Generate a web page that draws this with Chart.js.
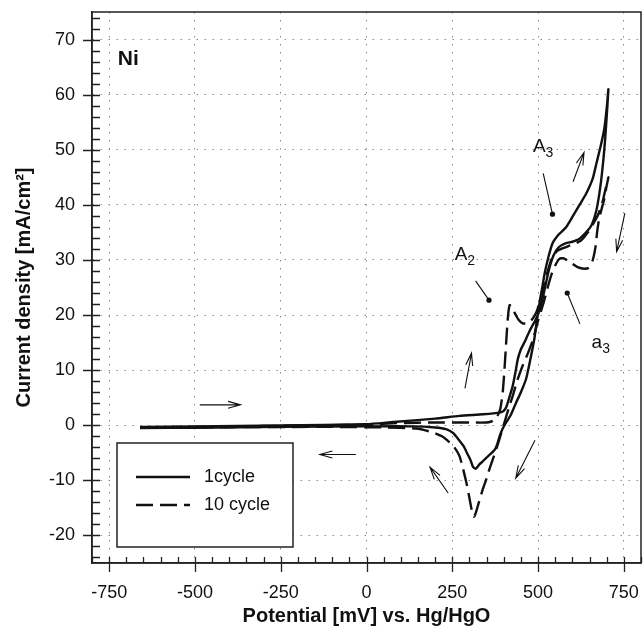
<!DOCTYPE html>
<html>
<head>
<meta charset="utf-8">
<script src="https://cdn.jsdelivr.net/npm/chart.js@4.4.0/dist/chart.umd.min.js"></script>
<style>
  html, body { margin: 0; padding: 0; background: #fff; }
</style>
</head>
<body>
<canvas id="cv" width="643" height="629"></canvas>
<script>
// axis ticks
const xTicks = [-750, -500, -250, 0, 250, 500, 750];
const yTicks = [-20, -10, 0, 10, 20, 30, 40, 50, 60, 70];
const xMinorStep = 50;
const yMinorStep = 2;

const seriesNames = ["1cycle", "10 cycle"];

// 1st cycle: anodic sweep then cathodic sweep (mV, mA/cm2)
const cycle1Potential = [
  -660, -500, -250, 0, 78, 200, 271, 340, 388, 400, 408, 416, 426, 434, 441, 450, 460, 476, 494, 505, 513,
  522, 532, 545, 560, 580, 600, 620, 640, 655, 665, 673, 683, 690, 695, 700, 705,
  700, 693, 683, 670, 659, 640, 620, 600, 581, 560, 542, 530, 520, 513, 505, 497, 489, 477, 465, 450, 436,
  420, 407, 397, 388, 380, 373, 360, 349, 338, 329, 318, 310, 303, 295, 283, 271, 252, 232, 200, 136, 0,
  -250, -500, -660
];
const cycle1Current = [
  -0.3, -0.2, -0.05, 0.2, 0.6, 1.2, 1.7, 2.0, 2.3, 2.6, 3.4, 5.0, 7.1, 9.6, 12.0, 13.8, 15.0, 17.2, 19.3, 21.0, 22.9,
  25.5, 28.3, 30.8, 32.3, 33.0, 33.3, 33.8, 35.0, 36.2, 37.8, 39.9, 44.0, 48.0, 51.5, 56.0, 61.0,
  57.5, 53.8, 50.8, 47.5, 44.7, 42.0, 39.9, 37.8, 35.9, 34.6, 33.0, 30.5, 27.8, 25.3, 22.5, 19.3, 15.6, 11.8, 8.4, 6.0, 4.1,
  1.8, 0.5, -0.6, -2.0, -3.6, -4.5, -5.3, -5.9, -6.6, -7.1, -7.9, -7.5, -6.3, -5.3, -3.8, -2.8, -1.4, -0.7, -0.4, -0.2, -0.2,
  -0.3, -0.45, -0.5
];

// 10th cycle
const cycle10Potential = [
  -660, -500, -250, 0, 97, 200, 300, 350, 368, 380, 390, 397, 402, 407, 412, 417, 423, 430, 436, 445, 455, 467,
  480, 495, 510, 525, 540, 555, 575, 600, 625, 645, 660, 675, 688, 697, 705,
  700, 693, 685, 678, 672, 668, 659, 648, 635, 615, 595, 575, 562, 550, 540, 528, 515, 500, 485, 470, 455, 441,
  426, 414, 402, 390, 378, 368, 358, 348, 339, 326, 318, 313, 307, 300, 291, 281, 271, 256, 242, 220, 194, 145,
  50, -100, -400, -660
];
const cycle10Current = [
  -0.4, -0.3, -0.1, 0.1, 0.4, 0.5, 0.5, 0.5, 0.8, 1.5, 3.0, 6.0, 10.0, 15.0, 19.5, 21.8, 21.4, 20.6, 19.9, 19.0, 18.5, 18.5,
  19.0, 20.5, 23.5, 27.3, 30.3, 31.6, 32.2, 32.8, 33.5, 35.0, 36.5, 38.2, 40.5, 43.0, 45.0,
  43.5, 41.1, 39.2, 37.5, 35.0, 32.6, 29.9, 28.6, 28.4, 28.7, 29.5, 30.3, 30.2, 29.0, 27.5, 25.0, 22.0, 19.0, 15.5, 13.0, 10.8, 8.4,
  5.3, 3.0, 0.5, -2.0, -4.4, -6.2, -8.0, -10.0, -11.6, -14.3, -16.0, -16.6, -15.5, -13.2, -10.4, -7.8, -5.6, -4.0, -3.1, -2.0, -1.3, -0.6,
  -0.4, -0.3, -0.35, -0.4
];

// sweep direction arrows: [tailX, tailY, headX, headY]
const arrows = [
  [-486, 3.7, -367, 3.7],
  [-31, -5.3, -136, -5.3],
  [287, 6.7, 306, 13.1],
  [238, -12.3, 185, -7.6],
  [491, -2.7, 435, -9.6],
  [602, 44.2, 634, 49.5],
  [753, 38.5, 729, 31.5]
];

// peak labels: text position, leader line start, marker dot
const peakLabels = [
  { main: "A", sub: "3", x: 485, y: 49.6, from: [515, 45.7], dot: [542, 38.3] },
  { main: "A", sub: "2", x: 257, y: 30.0, from: [318, 26.2], dot: [357, 22.7] },
  { main: "a", sub: "3", x: 656, y: 14.0, from: [622, 18.4], dot: [585, 24.0] }
];
const panelLabel = { text: "Ni", x: -725, y: 65.4 };

function toPoints(xs, ys) {
  return xs.map((v, i) => ({ x: v, y: ys[i] }));
}

function noLabelOverflow(scale) {
  scale.paddingLeft = 0;
  scale.paddingRight = 0;
  scale.paddingTop = 0;
  scale.paddingBottom = 0;
}

const decorations = {
  id: "decorations",
  afterDraw(chart) {
    const { ctx, chartArea: a, scales: { x, y } } = chart;
    ctx.save();

    // frame
    ctx.strokeStyle = "#222";
    ctx.lineWidth = 1.5;
    ctx.strokeRect(a.left, a.top, a.right - a.left, a.bottom - a.top);

    // tick marks
    ctx.lineWidth = 1.3;
    ctx.beginPath();
    for (let v = x.min; v <= x.max; v += xMinorStep) {
      const px = Math.round(x.getPixelForValue(v)) + 0.5;
      const major = xTicks.includes(v);
      ctx.moveTo(px, a.bottom - 6);
      ctx.lineTo(px, a.bottom + (major ? 9 : 0));
    }
    for (let v = y.min + 1; v <= y.max; v += yMinorStep) {
      const py = Math.round(y.getPixelForValue(v)) + 0.5;
      const major = yTicks.includes(v);
      ctx.moveTo(a.left + 8, py);
      ctx.lineTo(a.left - (major ? 9 : 0), py);
    }
    ctx.stroke();

    // arrows
    ctx.lineWidth = 1.1;
    ctx.strokeStyle = "#111";
    arrows.forEach(([x0, y0, x1, y1]) => {
      const tx = x.getPixelForValue(x0), ty = y.getPixelForValue(y0);
      const hx = x.getPixelForValue(x1), hy = y.getPixelForValue(y1);
      const ang = Math.atan2(hy - ty, hx - tx);
      const len = 13, spread = 0.27;
      ctx.beginPath();
      ctx.moveTo(tx, ty);
      ctx.lineTo(hx, hy);
      ctx.moveTo(hx - len * Math.cos(ang - spread), hy - len * Math.sin(ang - spread));
      ctx.lineTo(hx, hy);
      ctx.lineTo(hx - len * Math.cos(ang + spread), hy - len * Math.sin(ang + spread));
      ctx.stroke();
    });

    // peak labels
    ctx.fillStyle = "#111";
    ctx.textBaseline = "alphabetic";
    ctx.textAlign = "left";
    peakLabels.forEach(l => {
      const px = x.getPixelForValue(l.x), py = y.getPixelForValue(l.y);
      ctx.font = "19px 'Liberation Sans', Arial, sans-serif";
      ctx.fillText(l.main, px, py);
      const w = ctx.measureText(l.main).width;
      ctx.font = "14px 'Liberation Sans', Arial, sans-serif";
      ctx.fillText(l.sub, px + w, py + 5);
      ctx.beginPath();
      ctx.moveTo(x.getPixelForValue(l.from[0]), y.getPixelForValue(l.from[1]));
      ctx.lineTo(x.getPixelForValue(l.dot[0]), y.getPixelForValue(l.dot[1]));
      ctx.stroke();
      ctx.beginPath();
      ctx.arc(x.getPixelForValue(l.dot[0]), y.getPixelForValue(l.dot[1]), 2.6, 0, Math.PI * 2);
      ctx.fill();
    });

    ctx.font = "bold 21px 'Liberation Sans', Arial, sans-serif";
    ctx.fillText(panelLabel.text, x.getPixelForValue(panelLabel.x), y.getPixelForValue(panelLabel.y));

    // legend box
    const bx = a.left + 25, by = a.bottom - 120, bw = 176, bh = 104;
    ctx.fillStyle = "#fff";
    ctx.fillRect(bx, by, bw, bh);
    ctx.lineWidth = 1.5;
    ctx.strokeStyle = "#222";
    ctx.strokeRect(bx, by, bw, bh);
    ctx.font = "18px 'Liberation Sans', Arial, sans-serif";
    ctx.textBaseline = "middle";
    chart.data.datasets.forEach((ds, i) => {
      const ly = by + 34 + i * 28;
      ctx.strokeStyle = "#111";
      ctx.lineWidth = 2.5;
      ctx.setLineDash(ds.borderDash || []);
      ctx.beginPath();
      ctx.moveTo(bx + 19, ly);
      ctx.lineTo(bx + 73, ly);
      ctx.stroke();
      ctx.setLineDash([]);
      ctx.fillStyle = "#111";
      ctx.fillText(ds.label, bx + 87, ly);
    });

    ctx.restore();
  }
};

new Chart("cv", {
  type: "scatter",
  data: {
    datasets: [
      {
        label: seriesNames[0],
        data: toPoints(cycle1Potential, cycle1Current),
        showLine: true,
        borderColor: "#111",
        borderWidth: 2.4,
        pointRadius: 0,
        tension: 0.2,
        fill: false,
      },
      {
        label: seriesNames[1],
        data: toPoints(cycle10Potential, cycle10Current),
        showLine: true,
        borderColor: "#111",
        borderWidth: 2.4,
        borderDash: [17, 7],
        pointRadius: 0,
        tension: 0.2,
        fill: false,
      },
    ],
  },
  options: {
    responsive: false,
    animation: false,
    layout: { padding: { top: 12, right: 2, left: 0, bottom: 0 } },
    plugins: {
      legend: { display: false },
      tooltip: { enabled: false },
    },
    scales: {
      x: {
        type: "linear",
        min: -800,
        max: 800,
        afterBuildTicks: (scale) => { scale.ticks = xTicks.map(v => ({ value: v })); },
        afterFit: (scale) => { scale.height = 66; noLabelOverflow(scale); },
        grid: {
          drawTicks: false,
          color: "#8a8a8a",
          lineWidth: 1,
        },
        border: { display: true, color: "#222", width: 1.5, dash: [1.5, 6.5] },
        ticks: {
          padding: 19,
          color: "#111",
          autoSkip: false,
          maxRotation: 0,
          font: { size: 18, family: "'Liberation Sans', Arial, sans-serif" },
        },
        title: {
          display: true,
          text: "Potential [mV] vs. Hg/HgO",
          color: "#111",
          padding: { top: 0, bottom: 1 },
          font: { size: 20, weight: "bold", family: "'Liberation Sans', Arial, sans-serif" },
        },
      },
      y: {
        type: "linear",
        min: -25,
        max: 75,
        afterBuildTicks: (scale) => { scale.ticks = yTicks.map(v => ({ value: v })); },
        afterFit: (scale) => { scale.width = 92; noLabelOverflow(scale); },
        grid: {
          drawTicks: false,
          color: "#8a8a8a",
          lineWidth: 1,
        },
        border: { display: true, color: "#222", width: 1.5, dash: [1.5, 6.5] },
        ticks: {
          padding: 17,
          color: "#111",
          font: { size: 18, family: "'Liberation Sans', Arial, sans-serif" },
        },
        title: {
          display: true,
          text: "Current density [mA/cm²]",
          color: "#111",
          padding: { top: 12, bottom: 0 },
          font: { size: 20, weight: "bold", family: "'Liberation Sans', Arial, sans-serif" },
        },
      },
    },
  },
  plugins: [decorations],
});
</script>
</body>
</html>
